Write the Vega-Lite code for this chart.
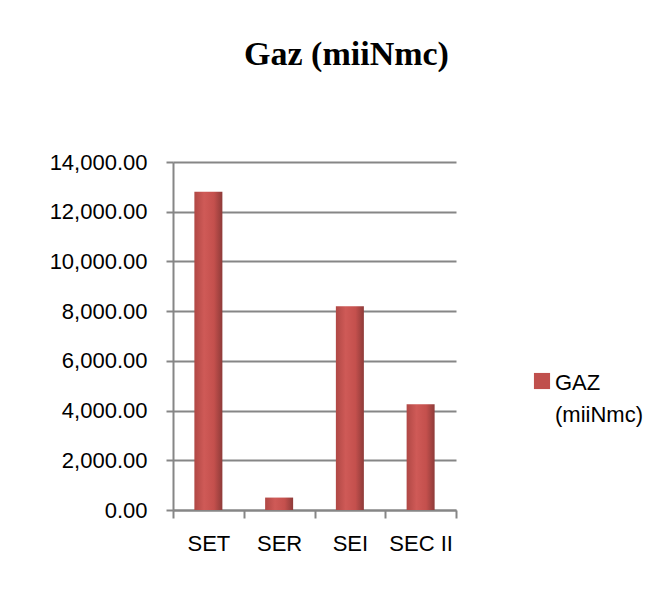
{
  "$schema": "https://vega.github.io/schema/vega-lite/v6.json",
  "autosize": {"type": "none"},
  "width": 283,
  "height": 348,
  "padding": {"left": 173, "top": 162, "right": 215, "bottom": 90},
  "background": "white",
  "title": {
    "text": "Gaz (miiNmc)",
    "font": "Liberation Serif",
    "fontWeight": "bold",
    "fontSize": 34,
    "color": "black",
    "anchor": "middle",
    "frame": "group",
    "dx": 32,
    "baseline": "alphabetic",
    "offset": 52
  },
  "data": {
    "values": [
      {"zone": "SET", "series": "GAZ (miiNmc)", "gaz": 12800},
      {"zone": "SER", "series": "GAZ (miiNmc)", "gaz": 500},
      {"zone": "SEI", "series": "GAZ (miiNmc)", "gaz": 8200},
      {"zone": "SEC II", "series": "GAZ (miiNmc)", "gaz": 4250}
    ]
  },
  "mark": {
    "type": "bar",
    "width": 28,
    "strokeWidth": 0,
    "fill": {
      "gradient": "linear",
      "x1": 0, "x2": 1, "y1": 0, "y2": 0,
      "stops": [
        {"offset": 0, "color": "#b04845"},
        {"offset": 0.35, "color": "#cf5a57"},
        {"offset": 0.7, "color": "#c4504d"},
        {"offset": 1, "color": "#8e3b39"}
      ]
    }
  },
  "encoding": {
    "x": {
      "field": "zone",
      "type": "nominal",
      "sort": null,
      "scale": {"paddingInner": 0, "paddingOuter": 0},
      "axis": {
        "title": null,
        "labelAngle": 0,
        "labelFont": "Liberation Sans",
        "labelFontSize": 22,
        "labelColor": "black",
        "labelPadding": 15,
        "tickBand": "extent",
        "tickSize": 8,
        "tickColor": "#868686",
        "tickWidth": 2,
        "domainColor": "#868686",
        "domainWidth": 2
      }
    },
    "y": {
      "field": "gaz",
      "type": "quantitative",
      "scale": {"domain": [0, 14000], "nice": false},
      "axis": {
        "title": null,
        "values": [0, 2000, 4000, 6000, 8000, 10000, 12000, 14000],
        "format": ",.2f",
        "labelFont": "Liberation Sans",
        "labelFontSize": 22,
        "labelColor": "black",
        "labelPadding": 19,
        "tickSize": 7,
        "tickColor": "#868686",
        "tickWidth": 2,
        "domainColor": "#868686",
        "domainWidth": 2,
        "grid": true,
        "gridColor": "#868686",
        "gridWidth": 2
      }
    },
    "color": {
      "field": "series",
      "type": "nominal",
      "scale": {"range": ["#c0504d"]},
      "legend": {
        "title": null,
        "orient": "none",
        "legendX": 358,
        "legendY": 208,
        "symbolType": "square",
        "symbolSize": 260,
        "symbolFillColor": "#c0504d",
        "symbolStrokeWidth": 0,
        "symbolOpacity": 1,
        "labelFont": "Liberation Sans",
        "labelFontSize": 22,
        "labelColor": "black",
        "labelOffset": 2,
        "labelBaseline": "top",
        "labelExpr": "split(datum.label, ' ')",
        "encode": {
          "labels": {"update": {"lineHeight": {"value": 32}, "dy": {"value": -8}}}
        }
      }
    }
  },
  "config": {"view": {"stroke": null}}
}
